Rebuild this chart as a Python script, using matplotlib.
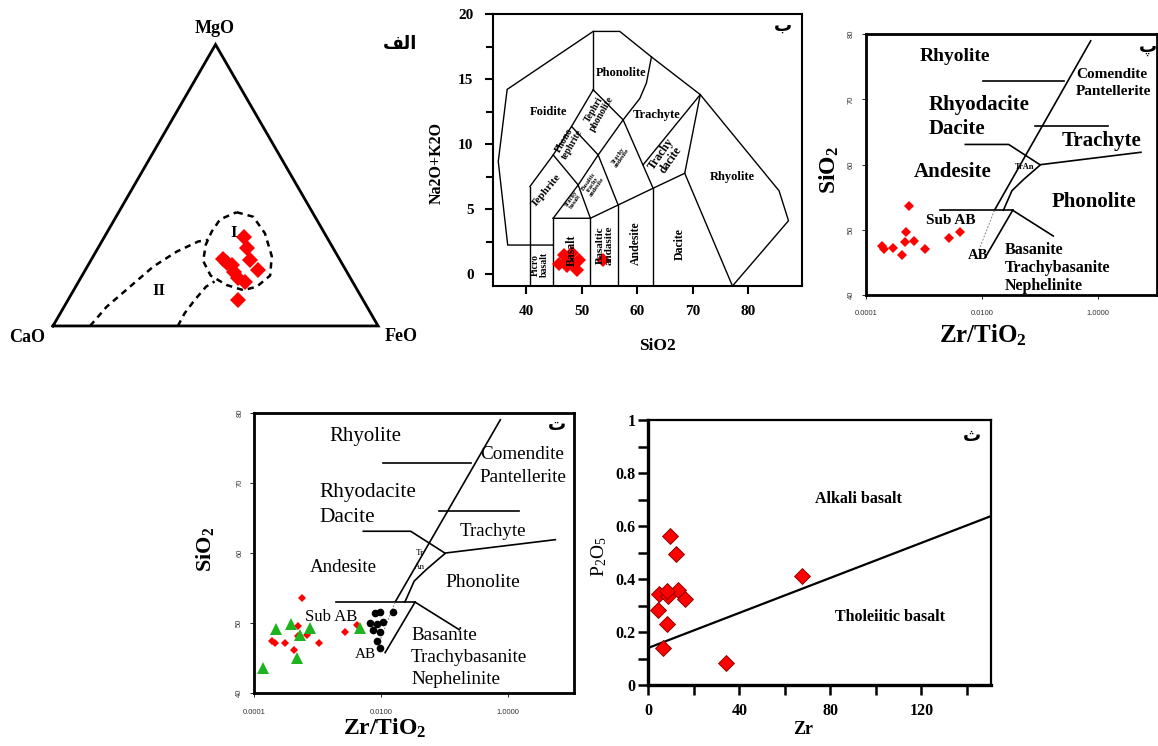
import numpy as np
import matplotlib
matplotlib.use("Agg")
import matplotlib.pyplot as plt
from matplotlib.ticker import FixedLocator, MultipleLocator, NullLocator

# ============================================================
# DATA
# ============================================================

# (alef) ternary MgO - CaO - FeO, in %
tri_mgo = [31.5, 27.6, 23.4, 23.7, 21.7, 19.3, 19.9, 17.0, 15.7, 9.2, 22.4]
tri_cao = [25.5, 26.6, 27.7, 36.0, 34.1, 34.8, 26.9, 34.5, 33.1, 38.4, 35.3]
tri_feo = [43.0, 45.8, 48.9, 40.3, 44.2, 45.9, 53.2, 48.5, 51.2, 52.4, 42.3]

# (be) TAS
tas_sio2 = [46.9, 46.0, 47.3, 48.2, 48.3, 49.6, 49.2, 47.6, 53.8]
tas_alk = [1.5, 0.8, 0.6, 1.6, 0.9, 1.1, 0.3, 1.0, 1.1]

# (pe, te) Zr/TiO2 vs SiO2
zt_red = [5.6e-4, 4.9e-4, 1.9e-4, 2.1e-4, 3.0e-4, 4.2e-4, 6.7e-4, 4.8e-4, 1.05e-3, 2.68e-3, 4.2e-3]
si_red = [53.6, 49.6, 47.5, 47.1, 47.2, 46.2, 48.3, 48.1, 47.1, 48.7, 49.7]
zt_green = [2.2e-4, 3.75e-4, 5.3e-4, 7.5e-4, 4.65e-4, 1.35e-4, 4.6e-3]
si_green = [49.1, 49.9, 48.3, 49.3, 45.1, 43.6, 49.3]
zt_black = [7.96e-3, 9.55e-3, 1.51e-2, 6.64e-3, 8.45e-3, 1.05e-2, 7.48e-3, 9.53e-3, 8.65e-3, 9.55e-3]
si_black = [51.4, 51.6, 51.6, 50.0, 49.9, 50.1, 49.0, 48.8, 47.4, 46.4]

# (the) Zr vs P2O5
zr = [9.5, 12.3, 4.9, 8.8, 13.2, 16.1, 4.4, 8.1, 6.6, 34.0, 67.7, 8.0]
p2o5 = [0.562, 0.493, 0.342, 0.334, 0.357, 0.323, 0.282, 0.230, 0.141, 0.082, 0.411, 0.355]
zr_line = [0.0, 150.5]
p2o5_line = [0.140, 0.637]

# ============================================================
# DIAGRAM BOUNDARIES
# ============================================================

# ternary fields, in triangle cartesian units (base 0..1)
field_I = [(0.565, 0.350), (0.616, 0.336), (0.652, 0.285), (0.673, 0.215), (0.668, 0.155),
           (0.627, 0.121), (0.586, 0.110), (0.534, 0.126), (0.485, 0.155), (0.462, 0.200),
           (0.470, 0.250), (0.488, 0.290), (0.514, 0.328), (0.565, 0.350)]
field_II_outer = [(0.114, 0.0), (0.165, 0.059), (0.237, 0.121), (0.309, 0.183),
                  (0.381, 0.229), (0.447, 0.260), (0.478, 0.265)]
field_II_inner = [(0.384, 0.0), (0.405, 0.039), (0.436, 0.080), (0.471, 0.121), (0.497, 0.137)]

tas_lines = [
    [(44.9, 2.23), (36.7, 2.23), (35.0, 8.65), (36.6, 14.2), (52.1, 18.66), (56.9, 18.66),
     (62.6, 16.7), (71.4, 13.8), (85.6, 6.4), (87.3, 4.1), (77.2, -0.92)],
    [(40.7, -0.92), (40.7, 6.73)],
    [(44.9, -0.92), (44.9, 4.29)],
    [(44.9, 4.29), (51.6, 4.29), (56.6, 5.31), (62.9, 6.6), (68.6, 7.75), (71.4, 13.8)],
    [(68.6, 7.75), (77.2, -0.92)],
    [(51.6, -0.92), (51.6, 4.29)],
    [(56.6, -0.92), (56.6, 5.31)],
    [(62.9, -0.92), (62.9, 6.6)],
    [(52.1, 18.66), (52.1, 14.17)],
    [(52.1, 14.17), (48.2, 11.35), (44.9, 9.16), (40.7, 6.73)],
    [(52.1, 14.17), (57.5, 11.86), (62.9, 6.6)],
    [(57.5, 11.86), (60.5, 13.5), (61.7, 14.7), (62.6, 16.7)],
    [(48.2, 11.35), (53.0, 9.16), (56.6, 5.31)],
    [(53.0, 9.16), (57.5, 11.86)],
    [(44.9, 9.16), (49.4, 6.85), (53.0, 9.16)],
    [(49.4, 6.85), (51.6, 4.29)],
    [(44.9, 4.29), (49.4, 6.85)],
    [(61.1, 8.4), (71.4, 13.8)],
]

wf_lines = [
    [(0.75, 79.0), (0.0165, 53.0)],
    [(5.5, 61.9), (0.103, 60.0), (0.052, 57.7), (0.033, 56.0), (0.0235, 53.0)],
    [(0.0019, 53.0), (0.034, 53.0)],
    [(0.034, 53.0), (0.0115, 45.8)],
    [(0.034, 53.0), (0.17, 49.05)],
    [(0.0105, 72.9), (0.26, 72.9)],
    [(0.082, 66.0), (1.5, 66.0)],
    [(0.0052, 63.1), (0.029, 63.1), (0.1, 60.0)],
]
wf_dashed = [(0.0165, 53.0), (0.009, 47.0)]

# ============================================================
# FIGURE
# ============================================================

plt.rcParams['font.family'] = ['Liberation Serif', 'DejaVu Serif']
plt.rcParams['mathtext.fontset'] = 'custom'
plt.rcParams['mathtext.rm'] = 'Liberation Serif'
plt.rcParams['mathtext.bf'] = 'Liberation Serif:bold'
plt.rcParams['mathtext.it'] = 'Liberation Serif:italic'

W, H = 1158, 746
fig = plt.figure(figsize=(W / 100, H / 100), dpi=100)


def px_axes(l, t, r, b):
    return fig.add_axes([l / W, 1 - b / H, (r - l) / W, (b - t) / H])


def fig_label(px, py, s, **kw):
    fig.text(px / W, 1 - py / H, s, ha='center', va='center', **kw)


ARABIC = dict(family='DejaVu Sans', fontweight='bold')

# ---------------- الف : ternary ----------------
ax = px_axes(0, 0, 420, 350)
ax.set_xlim(-0.163, 1.129)
ax.set_ylim(-0.074, 1.003)
ax.axis('off')
h = np.sqrt(3) / 2
ax.plot([0, 1, 0.5, 0], [0, 0, h, 0], color='black', lw=2.0, solid_joinstyle='miter')
for path in (field_I, field_II_outer, field_II_inner):
    xs, ys = zip(*path)
    ax.plot(xs, ys, color='black', lw=1.8, linestyle=(0, (2.5, 2)))
tot = np.array(tri_mgo) + np.array(tri_cao) + np.array(tri_feo)
tx = (np.array(tri_feo) + 0.5 * np.array(tri_mgo)) / tot
ty = np.array(tri_mgo) / tot * h
ax.plot(tx, ty, 'D', color='#ff0000', ms=8.5, mew=0)
ax.text(0.498, 0.915, 'MgO', ha='center', va='center', fontsize=13, fontweight='bold')
ax.text(-0.08, -0.037, 'CaO', ha='center', va='center', fontsize=13, fontweight='bold')
ax.text(1.071, -0.031, 'FeO', ha='center', va='center', fontsize=13, fontweight='bold')
ax.text(0.557, 0.285, 'I', ha='center', va='center', fontsize=12, fontweight='bold')
ax.text(0.326, 0.109, 'II', ha='center', va='center', fontsize=12, fontweight='bold')
# "الف" in visual order (presentation forms: feh final, lam initial, alef)
ax.text(1.068, 0.868, '\ufed2\ufedf\ufe8d', ha='center', va='center', fontsize=13, **ARABIC)

# ---------------- ب : TAS ----------------
ax = px_axes(493, 14, 802, 286)
ax.set_xlim(34.05, 89.73)
ax.set_ylim(-0.92, 20)
for seg in tas_lines:
    xs, ys = zip(*seg)
    ax.plot(xs, ys, color='black', lw=1.0)
ax.plot(tas_sio2, tas_alk, 'D', color='#ff0000', ms=7.5, mew=0, zorder=3)
tas_text = [
    ('Phonolite', 57.2, 15.5, 9, 0), ('Foidite', 44.0, 12.5, 9, 0),
    ('Trachyte', 63.5, 12.2, 9, 0), ('Rhyolite', 77.1, 7.5, 9, 0),
    ('Trachy\ndacite', 65.2, 9.0, 8.5, 55), ('Phono\ntephrite', 47.6, 10.1, 7, 60),
    ('Tephri\nphonolite', 52.9, 12.5, 7, 60), ('Tephrite', 43.6, 6.4, 8, 50),
    ('Trachy\nandesite', 57.0, 9.0, 4.5, 55), ('Basaltic\ntrachy\nandesite', 52.1, 6.9, 4.5, 55),
    ('Trachy\nbasalt', 48.5, 5.7, 4.5, 55), ('Basalt', 48.2, 1.85, 8.5, 90),
    ('Picro\nbasalt', 42.5, 0.7, 7, 90), ('Basaltic\nandasite', 54.2, 2.2, 8, 90),
    ('Andesite', 59.8, 2.4, 8.5, 90), ('Dacite', 67.7, 2.3, 8.5, 90),
]
for s, x, y, fs, rot in tas_text:
    ax.text(x, y, s, ha='center', va='center', fontsize=fs, fontweight='bold',
            rotation=rot, linespacing=0.95, zorder=4)
ax.xaxis.set_major_locator(FixedLocator([40, 50, 60, 70, 80]))
ax.yaxis.set_major_locator(FixedLocator([0, 5, 10, 15, 20]))
ax.yaxis.set_minor_locator(MultipleLocator(2.5))
ax.tick_params(direction='out', length=6, width=1.5, labelsize=11, pad=8)
ax.tick_params(axis='y', which='minor', direction='out', length=5, width=1.5)
for lab in ax.get_xticklabels() + ax.get_yticklabels():
    lab.set_fontweight('bold')
for sp in ax.spines.values():
    sp.set_linewidth(1.5)
ax.text(0.939, 0.955, '\u0628', transform=ax.transAxes, ha='center', va='center',
        fontsize=13, **ARABIC)
fig_label(437, 163, 'Na2O+K2O', rotation=90, fontsize=11.5, fontweight='bold')
fig_label(657, 346, 'SiO2', fontsize=12.5, fontweight='bold')


def wf_axes(ax, xmax, fs_tick=5.5):
    ax.set_xscale('log')
    ax.set_xlim(1e-4, xmax)
    ax.set_ylim(40, 80)
    for seg in wf_lines:
        xs, ys = zip(*seg)
        ax.plot(xs, ys, color='black', lw=1.2)
    xs, ys = zip(*wf_dashed)
    ax.plot(xs, ys, color='#888888', lw=0.7, linestyle=(0, (2, 1.5)))
    ax.xaxis.set_major_locator(FixedLocator([1e-4, 1e-2, 1.0]))
    ax.xaxis.set_minor_locator(NullLocator())
    ax.set_xticklabels(['0.0001', '0.0100', '1.0000'])
    ax.yaxis.set_major_locator(FixedLocator([40, 50, 60, 70, 80]))
    ax.tick_params(direction='out', length=3, width=0.6, labelsize=fs_tick,
                   labelcolor='#333333', pad=8)
    ax.tick_params(axis='y', pad=5)
    for lab in ax.get_xticklabels() + ax.get_yticklabels():
        lab.set_family('Liberation Sans')
    for lab in ax.get_yticklabels():
        lab.set_rotation(90)
        lab.set_va('center')
    for sp in ax.spines.values():
        sp.set_linewidth(2.0)


# ---------------- پ ----------------
ax = px_axes(865.7, 34.3, 1157, 295)
wf_axes(ax, 10.4)
ax.plot(zt_red, si_red, 'D', color='#ff0000', ms=5.4, mew=0, zorder=3)
pe_text = [
    ('Rhyolite', 0.00347, 76.6, 14, 'center'), ('Comendite', 0.42, 73.9, 11, 'left'),
    ('Pantellerite', 0.42, 71.2, 11, 'left'), ('Rhyodacite', 0.0012, 69.2, 15, 'left'),
    ('Dacite', 0.0012, 65.4, 15, 'left'), ('Trachyte', 0.24, 63.7, 15, 'left'),
    ('Andesite', 0.00316, 58.9, 15, 'center'), ('TrAn', 0.0537, 59.7, 6, 'center'),
    ('Phonolite', 0.84, 54.2, 15, 'center'), ('Sub AB', 0.00295, 51.5, 11, 'center'),
    ('AB', 0.0087, 46.1, 10.5, 'center'), ('Basanite', 0.0251, 46.9, 11.5, 'left'),
    ('Trachybasanite', 0.0251, 44.1, 11.5, 'left'), ('Nephelinite', 0.0251, 41.4, 11.5, 'left'),
]
for s, x, y, fs, ha in pe_text:
    ax.text(x, y, s, ha=ha, va='center', fontsize=fs, fontweight='bold')
ax.text(0.969, 0.951, '\u067e', transform=ax.transAxes, ha='center', va='center',
        fontsize=13, **ARABIC)
fig_label(829, 170, r'SiO$_\mathbf{2}$', rotation=90, fontsize=17, fontweight='bold')
fig_label(983, 335, r'Zr/TiO$_\mathbf{2}$', fontsize=18, fontweight='bold')

# ---------------- ت ----------------
ax = px_axes(254.3, 412.7, 574, 693.3)
wf_axes(ax, 10.83)
ax.plot(zt_red, si_red, 'D', color='#ff0000', ms=4.4, mew=0, zorder=3)
ax.plot(zt_green, si_green, '^', color='#1fb41f', ms=8.5, mew=0, zorder=3)
ax.plot(zt_black, si_black, 'o', color='black', ms=5.5, mew=0, zorder=3)
te_text = [
    ('Rhyolite', 0.0056, 76.6, 15, 'center'), ('Comendite', 0.357, 74.0, 13.8, 'left'),
    ('Pantellerite', 0.357, 70.8, 13.8, 'left'), ('Rhyodacite', 0.00107, 68.6, 15.3, 'left'),
    ('Dacite', 0.00107, 65.1, 15.3, 'left'), ('Trachyte', 0.173, 63.1, 13.6, 'left'),
    ('Andesite', 0.00248, 57.9, 13.6, 'center'), ('Tr', 0.04, 60.0, 6.5, 'center'),
    ('An', 0.04, 58.0, 6.5, 'center'), ('Phonolite', 0.102, 55.8, 14, 'left'),
    ('Sub AB', 0.00162, 50.9, 12, 'center'), ('AB', 0.0056, 45.5, 11, 'center'),
    ('Basanite', 0.0295, 48.3, 13.8, 'left'), ('Trachybasanite', 0.0295, 45.1, 13.8, 'left'),
    ('Nephelinite', 0.0295, 41.9, 13.8, 'left'),
]
for s, x, y, fs, ha in te_text:
    ax.text(x, y, s, ha=ha, va='center', fontsize=fs)
ax.text(0.947, 0.956, '\u062a', transform=ax.transAxes, ha='center', va='center',
        fontsize=13, **ARABIC)
fig_label(205, 549, r'SiO$_\mathbf{2}$', rotation=90, fontsize=16, fontweight='bold')
fig_label(385, 728, r'Zr/TiO$_\mathbf{2}$', fontsize=17, fontweight='bold')

# ---------------- ث ----------------
ax = px_axes(648.3, 420, 990.7, 685)
ax.set_xlim(0, 150.5)
ax.set_ylim(0, 1)
ax.plot(zr_line, p2o5_line, color='black', lw=1.6)
ax.plot(zr, p2o5, 'D', color='#ff0000', ms=8.5, mec='#7a0000', mew=0.6, zorder=3)
ax.xaxis.set_major_locator(FixedLocator([0, 40, 80, 120]))
ax.xaxis.set_minor_locator(FixedLocator([20, 60, 100, 140]))
ax.yaxis.set_major_locator(FixedLocator([0, 0.2, 0.4, 0.6, 0.8, 1.0]))
ax.yaxis.set_minor_locator(MultipleLocator(0.1))
ax.set_xticklabels(['0', '40', '80', '120'])
ax.set_yticklabels(['0', '0.2', '0.4', '0.6', '0.8', '1'])
ax.tick_params(which='both', direction='out', length=7, width=1.8, labelsize=11.5)
ax.tick_params(axis='y', pad=2)
ax.tick_params(axis='x', pad=6)
for lab in ax.get_xticklabels() + ax.get_yticklabels():
    lab.set_fontweight('bold')
ax.spines['left'].set_linewidth(2.4)
ax.spines['bottom'].set_linewidth(2.4)
ax.spines['top'].set_linewidth(1.6)
ax.spines['right'].set_linewidth(1.6)
ax.text(92.4, 0.70, 'Alkali basalt', ha='center', va='center', fontsize=11.5, fontweight='bold')
ax.text(106.3, 0.258, 'Tholeiitic basalt', ha='center', va='center', fontsize=11.5,
        fontweight='bold')
ax.text(0.945, 0.94, '\u062b', transform=ax.transAxes, ha='center', va='center',
        fontsize=13, **ARABIC)
fig_label(599, 557, r'P$_\mathrm{2}$O$_\mathrm{5}$', rotation=90, fontsize=14)
fig_label(803, 730, 'Zr', fontsize=13, fontweight='bold')

fig.savefig('out.png', dpi=100)
